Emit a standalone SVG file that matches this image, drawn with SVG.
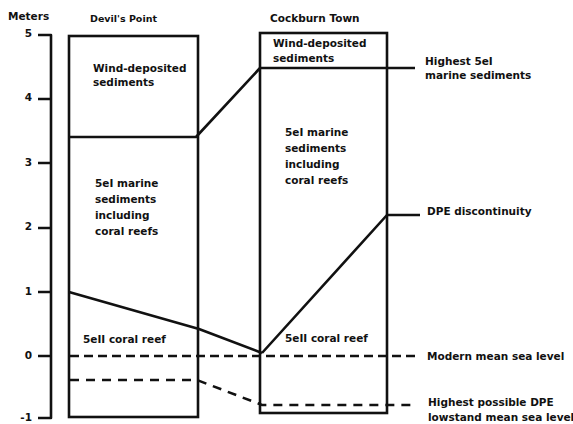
<svg xmlns="http://www.w3.org/2000/svg" width="573" height="424" viewBox="0 0 573 424">
<style>
text{font-family:"DejaVu Sans","Liberation Sans",sans-serif;font-weight:bold;font-size:10.5px;fill:#111}
.box{fill:none;stroke:#111;stroke-width:2.6}
.ln{fill:none;stroke:#111;stroke-width:2.6;stroke-linejoin:round}
.d1{fill:none;stroke:#111;stroke-width:2.6;stroke-dasharray:9 5}
.d2{fill:none;stroke:#111;stroke-width:2.6;stroke-dasharray:9 7}
.ax text{text-anchor:end}
</style>
<rect width="573" height="424" fill="#fff"/>
<g id="axis" class="ax">
<text x="8" y="20" style="text-anchor:start">Meters</text>
<path class="ln" d="M38 35H51V418H38M38 99H51M38 163H51M38 228H51M38 292H51M38 356H51"/>
<text x="32" y="37">5</text>
<text x="32" y="101">4</text>
<text x="32" y="166">3</text>
<text x="32" y="230">2</text>
<text x="32" y="295">1</text>
<text x="32" y="359">0</text>
<text x="32" y="421">-1</text>
</g>
<g id="devils-point">
<text x="90" y="22" style="font-size:9.5px">Devil's Point</text>
<rect class="box" x="69" y="36" width="129" height="381"/>
<text x="93" y="72">Wind-deposited</text>
<text x="93" y="86">sediments</text>
<text x="95" y="187">5eI marine</text>
<text x="95" y="203">sediments</text>
<text x="95" y="219">including</text>
<text x="95" y="235">coral reefs</text>
<text x="83" y="343">5eII coral reef</text>
</g>
<g id="cockburn-town">
<text x="270" y="22">Cockburn Town</text>
<rect class="box" x="260" y="33" width="127" height="380"/>
<text x="273" y="47">Wind-deposited</text>
<text x="273" y="62">sediments</text>
<text x="285" y="136">5eI marine</text>
<text x="285" y="152">sediments</text>
<text x="285" y="168">including</text>
<text x="285" y="184">coral reefs</text>
<text x="285" y="342">5eII coral reef</text>
</g>
<g id="connectors">
<path class="ln" d="M69 137H196L260 68H415"/>
<path class="ln" d="M420 215H387L262 353"/>
<path class="ln" d="M69 292L199 329L262 353"/>
<path class="d1" d="M70 356H416"/>
<path class="d2" d="M70 380H197L262 405H416"/>
</g>
<g id="labels">
<text x="425" y="65">Highest 5eI</text>
<text x="425" y="79">marine sediments</text>
<text x="427" y="215">DPE discontinuity</text>
<text x="427" y="360">Modern mean sea level</text>
<text x="428" y="406">Highest possible DPE</text>
<text x="428" y="421">lowstand mean sea level</text>
</g>
</svg>
